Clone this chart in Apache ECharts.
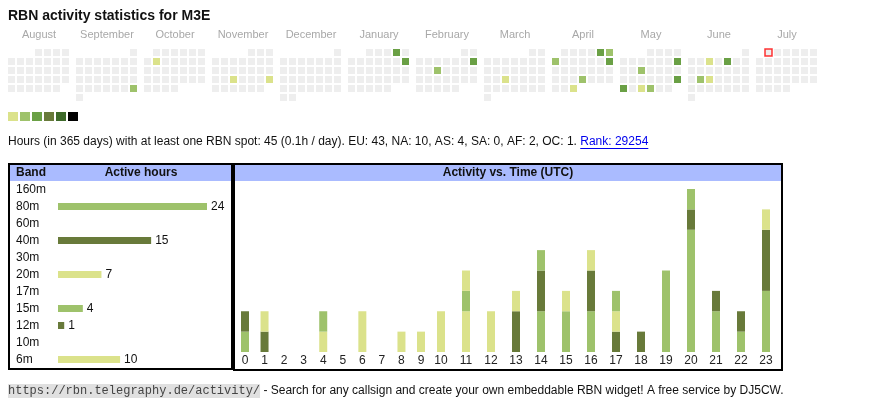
<!DOCTYPE html>
<html><head><meta charset="utf-8">
<script src="https://cdn.jsdelivr.net/npm/echarts@6/dist/echarts.min.js"></script>
<style>html,body{margin:0;padding:0;background:#fff}#c{width:870px;height:407px}</style>
</head><body><div id="c"></div>
<script>
// ---------- data ----------
const callsign = 'M3E';
const monthRanges = ['2024-08','2024-09','2024-10','2024-11','2024-12','2025-01','2025-02','2025-03','2025-04','2025-05','2025-06','2025-07'];
const monthNames = ['August','September','October','November','December','January','February','March','April','May','June','July'];
const activeDays = ['2024-09-29','2024-10-08','2024-11-20','2024-11-24','2025-01-04','2025-01-12','2025-02-09','2025-02-12','2025-03-19',
  '2025-04-05','2025-04-06','2025-04-07','2025-04-13','2025-04-24','2025-04-30','2025-05-11','2025-05-14','2025-05-25','2025-05-26',
  '2025-05-28','2025-05-29','2025-06-04','2025-06-06','2025-06-17','2025-06-18'];
const dayLevels = [2,1,1,1,3,3,3,2,1, 3,2,2,3,2,1,3,2,3,3, 1,2,1,3,2,1];
const todayDate = '2025-07-01';
const levelValues = [1,2,3,4,5,6];
const levelColors = ['#dbe28b','#9ec26b','#6aa045','#687a3a','#3e6a2a','#000000'];

const bands = ['160m','80m','60m','40m','30m','20m','17m','15m','12m','10m','6m'];
const bandHours = [0,24,0,15,0,7,0,4,1,0,10];

const hours = ['0','1','2','3','4','5','6','7','8','9','10','11','12','13','14','15','16','17','18','19','20','21','22','23'];
const hourly80m = [1,0,0,0,0,0,0,0,0,0,0,0,0,0,2,2,2,0,0,4,6,2,1,3];
const hourly40m = [1,0,0,0,0,0,0,0,0,0,0,0,0,2,2,0,2,1,1,0,1,1,1,3];
const hourly20m = [0,0,0,0,1,0,0,0,0,0,0,2,0,1,0,0,1,1,0,0,0,0,0,1];
const hourly15m = [0,0,0,0,1,0,0,0,0,0,0,1,0,0,1,0,0,1,0,0,1,0,0,0];
const hourly12m = [0,1,0,0,0,0,0,0,0,0,0,0,0,0,0,0,0,0,0,0,0,0,0,0];
const hourly6m  = [0,1,0,0,0,0,2,0,1,1,2,1,2,0,0,1,0,0,0,0,0,0,0,0];

const totalHours = 45;
const periodDays = 365;
const continents = ['EU','NA','AS','SA','AF','OC'];
const continentHours = [43,10,4,0,2,1];
const rank = 29254;
const widgetUrl = 'https://rbn.telegraphy.de/activity/';
const footerText = ' - Search for any callsign and create your own embeddable RBN widget! A free service by DJ5CW.';

// ---------- build ----------
const FONT = '"Liberation Sans", Arial, sans-serif';
const MONO = '"Liberation Mono", "Courier New", monospace';
const mctx = document.createElement('canvas').getContext('2d');
function tw(t, font) { mctx.font = font; return mctx.measureText(t).width; }

const barPalette = [levelColors[1], levelColors[3], levelColors[0]]; // cycles over active bands
const hourlyByBand = {'80m':hourly80m,'40m':hourly40m,'20m':hourly20m,'15m':hourly15m,'12m':hourly12m,'6m':hourly6m};
const bandColor = {};
let k = 0;
bands.forEach((b, i) => { if (bandHours[i] > 0) { bandColor[b] = barPalette[k % 3]; k++; } });

const calendars = monthRanges.map((m, i) => ({
  orient: 'vertical', range: m, cellSize: [9, 9], left: 7 + i * 68, top: 48,
  splitLine: { show: false },
  itemStyle: { color: '#eeeeee', borderColor: '#ffffff', borderWidth: 2 },
  dayLabel: { show: false, firstDay: 1 }, monthLabel: { show: false }, yearLabel: { show: false }
}));

const series = [];
monthRanges.forEach((m, i) => {
  const data = [];
  activeDays.forEach((d, j) => { if (d.slice(0, 7) === m) data.push([d, dayLevels[j]]); });
  series.push({ type: 'heatmap', coordinateSystem: 'calendar', calendarIndex: i, data: data, silent: true });
});
const heatIdx = series.map((s, i) => i);
series.push({ type: 'scatter', coordinateSystem: 'calendar', calendarIndex: monthRanges.indexOf(todayDate.slice(0, 7)),
  data: [[todayDate, 0]], symbol: 'rect', symbolSize: 7, silent: true,
  itemStyle: { color: '#eeeeee', borderColor: '#ff0000', borderWidth: 1.5 } });

// band bars
series.push({ type: 'bar', xAxisIndex: 0, yAxisIndex: 0, barWidth: 7,
  data: bandHours.map((v, i) => v > 0 ? { value: v, itemStyle: { color: bandColor[bands[i]] } } : '-'),
  label: { show: true, position: 'right', distance: 4, color: '#111', fontSize: 12, fontFamily: FONT } });

// hourly stacked bars, split into two grids (one-digit hours / two-digit hours)
Object.keys(hourlyByBand).forEach(b => {
  const vals = hourlyByBand[b];
  series.push({ type: 'bar', name: b, xAxisIndex: 1, yAxisIndex: 1, stack: 'h1', barWidth: 8,
    itemStyle: { color: bandColor[b] }, data: vals.slice(0, 10) });
  series.push({ type: 'bar', name: b, xAxisIndex: 2, yAxisIndex: 2, stack: 'h2', barWidth: 8,
    itemStyle: { color: bandColor[b] }, data: vals.slice(10) });
});

const hourLabel = { color: '#222', fontSize: 12, fontFamily: FONT, margin: 3, interval: 0 };
const xAxis = [
  { gridIndex: 0, type: 'value', min: 0, max: 24, show: false },
  { gridIndex: 1, type: 'category', data: hours.slice(0, 10), axisLine: { show: false }, axisTick: { show: false }, axisLabel: hourLabel },
  { gridIndex: 2, type: 'category', data: hours.slice(10), axisLine: { show: false }, axisTick: { show: false }, axisLabel: hourLabel }
];
const yAxis = [
  { gridIndex: 0, type: 'category', data: bands, inverse: true, axisLine: { show: false }, axisTick: { show: false },
    axisLabel: { align: 'left', margin: 42, color: '#111', fontSize: 12, fontFamily: FONT } },
  { gridIndex: 1, type: 'value', min: 0, max: 8, show: false },
  { gridIndex: 2, type: 'value', min: 0, max: 8, show: false }
];
const grid = [
  { left: 58, top: 181, width: 149, height: 187 },
  { left: 235.2, top: 189, width: 195.6, height: 163 },
  { left: 428.5, top: 189, width: 350, height: 163 }
];

// text & decorations
const graphic = [];
graphic.push({ type: 'text', left: 8, top: 9, style: { text: 'RBN activity statistics for ' + callsign, font: 'bold 14px ' + FONT, fill: '#111' } });
monthNames.forEach((n, i) => graphic.push({ type: 'text', x: 7 + i * 68 + 32, y: 35,
  style: { text: n, font: '11px ' + FONT, fill: '#a8a8a8', align: 'center', verticalAlign: 'middle' } }));

const F12 = '12px ' + FONT;
const summaryText = 'Hours (in ' + periodDays + ' days) with at least one RBN spot: ' + totalHours + ' (' + (totalHours / periodDays).toFixed(1) + 'h / day). ' +
  continents.map((c, i) => c + ': ' + continentHours[i]).join(', ') + '. ';
const linkText = 'Rank: ' + rank;
const linkX = 8 + tw(summaryText, F12);
graphic.push({ type: 'text', x: 8, y: 142, style: { text: summaryText, font: F12, fill: '#111', verticalAlign: 'middle' } });
graphic.push({ type: 'text', x: linkX, y: 142, style: { text: linkText, font: F12, fill: '#0000ee', verticalAlign: 'middle' } });
graphic.push({ type: 'line', shape: { x1: linkX, y1: 148.5, x2: linkX + tw(linkText, F12), y2: 148.5 }, style: { stroke: '#0000ee', lineWidth: 1 } });

// boxes
graphic.push({ type: 'rect', shape: { x: 10, y: 165, width: 221, height: 16 }, style: { fill: '#aabbff' }, z: -1 });
graphic.push({ type: 'rect', shape: { x: 235, y: 165, width: 546, height: 16 }, style: { fill: '#aabbff' }, z: -1 });
graphic.push({ type: 'rect', shape: { x: 9, y: 164, width: 223, height: 205 }, style: { fill: null, stroke: '#000', lineWidth: 2 } });
graphic.push({ type: 'rect', shape: { x: 234, y: 164, width: 548, height: 206 }, style: { fill: null, stroke: '#000', lineWidth: 2 } });
graphic.push({ type: 'text', x: 16, y: 173, style: { text: 'Band', font: 'bold 12px ' + FONT, fill: '#111', verticalAlign: 'middle' } });
graphic.push({ type: 'text', x: 141, y: 173, style: { text: 'Active hours', font: 'bold 12px ' + FONT, fill: '#111', align: 'center', verticalAlign: 'middle' } });
graphic.push({ type: 'text', x: 508, y: 173, style: { text: 'Activity vs. Time (UTC)', font: 'bold 12px ' + FONT, fill: '#111', align: 'center', verticalAlign: 'middle' } });

// footer
const M12 = '12px ' + MONO;
const urlW = tw(widgetUrl, M12);
graphic.push({ type: 'rect', shape: { x: 8, y: 384, width: urlW, height: 14 }, style: { fill: '#e0e0e0' }, z: -1 });
graphic.push({ type: 'text', x: 8, y: 391, style: { text: widgetUrl, font: M12, fill: '#444', verticalAlign: 'middle' } });
graphic.push({ type: 'text', x: 8 + urlW, y: 391, style: { text: footerText, font: F12, fill: '#111', verticalAlign: 'middle' } });

const chart = echarts.init(document.getElementById('c'), null, { renderer: 'canvas' });
chart.setOption({
  animation: false,
  backgroundColor: '#fff',
  calendar: calendars,
  visualMap: {
    type: 'piecewise', seriesIndex: heatIdx, orient: 'horizontal', left: 8, top: 112, padding: 0,
    itemWidth: 10, itemHeight: 9, itemGap: 2, itemSymbol: 'rect', showLabel: false, selectedMode: false,
    pieces: levelValues.map((v, i) => ({ value: v, color: levelColors[i] }))
  },
  grid: grid, xAxis: xAxis, yAxis: yAxis, series: series, graphic: graphic
});
</script></body></html>
